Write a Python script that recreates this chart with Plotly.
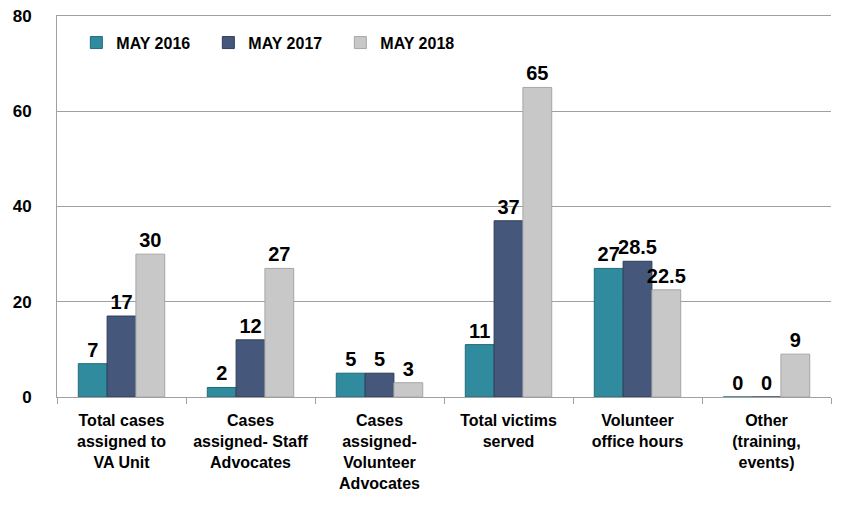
import plotly.graph_objects as go

categories = [
    "Total cases<br>assigned to<br>VA Unit",
    "Cases<br>assigned- Staff<br>Advocates",
    "Cases<br>assigned-<br>Volunteer<br>Advocates",
    "Total victims<br>served",
    "Volunteer<br>office hours",
    "Other<br>(training,<br>events)",
]
series_names = ["MAY 2016", "MAY 2017", "MAY 2018"]
may_2016 = [7, 2, 5, 11, 27, 0]
may_2017 = [17, 12, 5, 37, 28.5, 0]
may_2018 = [30, 27, 3, 65, 22.5, 9]

colors = ["#318B9E", "#45577B", "#C8C8C8"]
line_colors = ["#236A7A", "#2F3D58", "#A6A6A6"]
FONT = "Liberation Sans, Arial, sans-serif"

fig = go.Figure()
for name, vals, c, lc in zip(series_names, [may_2016, may_2017, may_2018], colors, line_colors):
    fig.add_trace(go.Bar(
        name=name, x=categories, y=vals,
        marker=dict(color=c, line=dict(color=lc, width=1)),
        text=[("%g" % v) for v in vals],
        textposition="outside",
        constraintext="none",
        textfont=dict(family=FONT, size=20, color="black", weight="bold"),
        cliponaxis=False,
    ))

# page body has an 8px default margin, so margins are offset accordingly
fig.update_layout(
    width=841, height=508,
    barmode="group", bargap=0.33, bargroupgap=0,
    plot_bgcolor="white", paper_bgcolor="white",
    margin=dict(l=49, r=18, t=8, b=119, autoexpand=False),
    font=dict(family=FONT, color="black"),
    legend=dict(
        orientation="h", x=0.025, y=0.93, xanchor="left", yanchor="middle",
        font=dict(size=16, family=FONT, color="black", weight="bold"),
        bgcolor="rgba(0,0,0,0)", entrywidth=87, entrywidthmode="pixels",
        itemwidth=30, traceorder="normal",
    ),
    showlegend=True,
    uniformtext=dict(mode=False),
)
fig.update_yaxes(
    range=[0, 80], dtick=20, showgrid=True, gridcolor="#A0A0A0", gridwidth=1,
    showline=True, linecolor="#A0A0A0", linewidth=1, zeroline=False,
    ticks="", ticklabelstandoff=21, automargin=False, ticklabeloverflow="allow",
    tickfont=dict(size=17, family=FONT, color="black", weight="bold"),
)
fig.update_xaxes(
    showline=True, linecolor="#A0A0A0", linewidth=1, automargin=False, mirror=True,
    ticks="outside", tickson="boundaries", ticklen=6, tickcolor="#A0A0A0",
    tickfont=dict(size=16, family=FONT, color="black", weight="bold"),
    ticklabelstandoff=9, ticklabeloverflow="allow",
)

fig.write_html("out.html")
